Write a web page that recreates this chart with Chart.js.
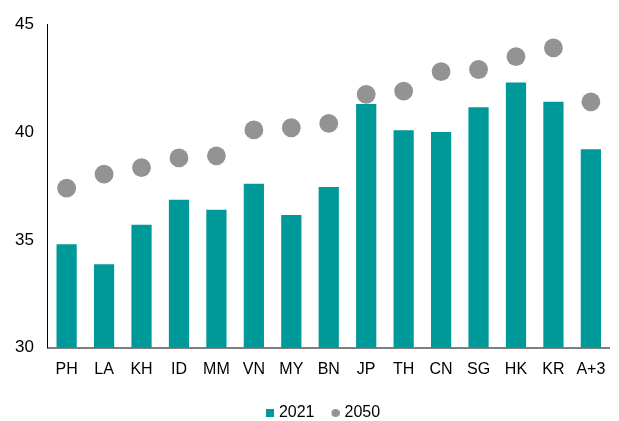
<!DOCTYPE html>
<html>
<head>
<meta charset="utf-8">
<script src="https://cdn.jsdelivr.net/npm/chart.js@4"></script>
<style>
  body { margin: 0; background: #fff; }
  #wrap { width: 619px; height: 421px; }
</style>
</head>
<body>
<div id="wrap"><canvas id="ageChart"></canvas></div>
<script>
// Kategorien und Werte
var countries = ['PH', 'LA', 'KH', 'ID', 'MM', 'VN', 'MY', 'BN', 'JP', 'TH', 'CN', 'SG', 'HK', 'KR', 'A+3'];
var values2021 = [34.8, 33.87, 35.7, 36.86, 36.4, 37.6, 36.15, 37.45, 41.3, 40.08, 40.0, 41.15, 42.3, 41.4, 39.2];
var values2050 = [37.4, 38.05, 38.35, 38.8, 38.9, 40.1, 40.2, 40.4, 41.75, 41.9, 42.8, 42.9, 43.5, 43.9, 41.4];
var yTicks = [30, 35, 40, 45];

var teal = '#009999';
var grey = '#939393';
var fontFamily = "'Liberation Sans', Arial, sans-serif";

// kleine Legenden-Symbole (rechtsbuendig im Kasten, damit der Abstand zum Text passt)
function makeMarker(color, round) {
    var c = document.createElement('canvas');
    c.width = 14; c.height = 8;
    var g = c.getContext('2d');
    g.fillStyle = color;
    if (round) {
        g.beginPath();
        g.arc(10, 4, 4, 0, Math.PI * 2);
        g.fill();
    } else {
        g.fillRect(6, 0, 8, 8);
    }
    return c;
}
var squareMarker = makeMarker(teal, false);
var dotMarker = makeMarker(grey, true);

// Legende etwas nach rechts schieben (Mitte ueber der Zeichenflaeche)
var legendShift = {
    id: 'legendShift',
    afterLayout: function(chart) {
        chart.legend.left += 16;
        chart.legend.right += 16;
    }
};

var ctx = document.getElementById('ageChart').getContext('2d');
var chart = new Chart(ctx, {
    type: 'bar',
    data: {
        labels: countries,
        datasets: [
            {
                label: '2050',
                type: 'line',
                data: values2050,
                showLine: false,
                pointRadius: 9.4,
                pointHoverRadius: 9.4,
                pointBackgroundColor: grey,
                pointBorderWidth: 0,
                borderColor: grey,
                order: 0
            },
            {
                label: '2021',
                data: values2021,
                backgroundColor: teal,
                borderWidth: 0,
                categoryPercentage: 1,
                barPercentage: 0.54,
                order: 1
            }
        ]
    },
    plugins: [legendShift],
    options: {
        responsive: true,
        maintainAspectRatio: false,
        animation: false,
        layout: { padding: { left: 1, right: 9, top: 11, bottom: -10 } },
        plugins: {
            tooltip: { enabled: false },
            legend: {
                position: 'bottom',
                reverse: true,
                labels: {
                    usePointStyle: true,
                    boxWidth: 8,
                    boxHeight: 8,
                    padding: 14,
                    color: '#000',
                    font: { family: fontFamily, size: 16 },
                    generateLabels: function(chart) {
                        return chart.data.datasets.map(function(ds, i) {
                            return {
                                text: ds.label,
                                pointStyle: ds.label === '2021' ? squareMarker : dotMarker,
                                fillStyle: ds.label === '2021' ? teal : grey,
                                strokeStyle: 'transparent',
                                lineWidth: 0,
                                hidden: false,
                                datasetIndex: i
                            };
                        });
                    }
                }
            }
        },
        scales: {
            x: {
                grid: { display: false, drawTicks: false },
                border: { display: true, color: '#7f7f7f', width: 2 },
                ticks: { color: '#000', padding: 12, font: { family: fontFamily, size: 16 } }
            },
            y: {
                min: 30,
                max: 45,
                afterBuildTicks: function(axis) {
                    axis.ticks = yTicks.map(function(v) { return { value: v }; });
                },
                grid: { display: false, drawTicks: false },
                border: { display: true, color: '#000', width: 1 },
                ticks: { color: '#000', padding: 14, font: { family: fontFamily, size: 17 } }
            }
        }
    }
});
</script>
</body>
</html>
